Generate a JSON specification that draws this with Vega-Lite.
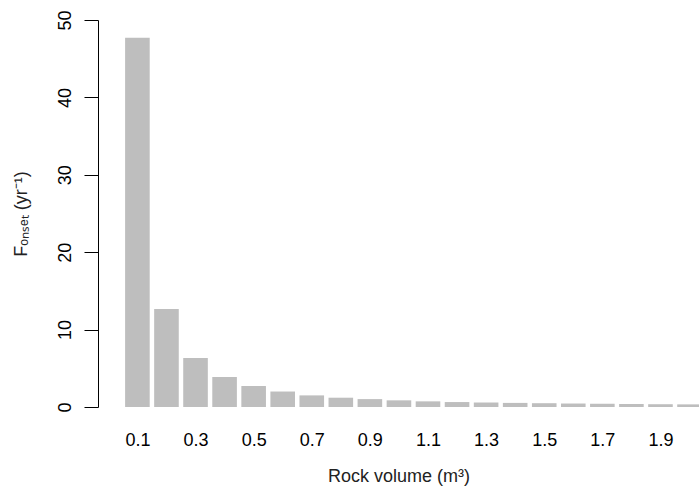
{
  "$schema": "https://vega.github.io/schema/vega-lite/v6.json",
  "autosize": {"type": "none"},
  "padding": {"left": 98, "top": 20, "right": 0, "bottom": 86},
  "width": 601,
  "height": 387,
  "background": "white",
  "config": {
    "view": {"stroke": null},
    "font": "Liberation Sans",
    "axis": {"grid": false, "labelFont": "Liberation Sans", "titleFont": "Liberation Sans", "labelColor": "black", "titleColor": "#222222", "titleFontWeight": "normal", "domainColor": "black", "tickColor": "black"}
  },
  "data": {
    "values": [
      {"vol": 0.1, "f": 47.7},
      {"vol": 0.2, "f": 12.66},
      {"vol": 0.3, "f": 6.33},
      {"vol": 0.4, "f": 3.88},
      {"vol": 0.5, "f": 2.71},
      {"vol": 0.6, "f": 2.0},
      {"vol": 0.7, "f": 1.5},
      {"vol": 0.8, "f": 1.2},
      {"vol": 0.9, "f": 1.02},
      {"vol": 1.0, "f": 0.86},
      {"vol": 1.1, "f": 0.73},
      {"vol": 1.2, "f": 0.64},
      {"vol": 1.3, "f": 0.58},
      {"vol": 1.4, "f": 0.53},
      {"vol": 1.5, "f": 0.49},
      {"vol": 1.6, "f": 0.45},
      {"vol": 1.7, "f": 0.42},
      {"vol": 1.8, "f": 0.39},
      {"vol": 1.9, "f": 0.36},
      {"vol": 2.0, "f": 0.34}
    ]
  },
  "mark": {"type": "bar", "color": "#BEBEBE", "width": 24.6, "clip": true},
  "encoding": {
    "x": {
      "field": "vol",
      "type": "quantitative",
      "scale": {"domain": [-0.0184, 2.0154], "nice": false, "zero": false},
      "axis": {
        "values": [0.1, 0.3, 0.5, 0.7, 0.9, 1.1, 1.3, 1.5, 1.7, 1.9],
        "format": ".1f",
        "domain": false,
        "ticks": false,
        "labelFontSize": 18,
        "labelPadding": 24,
        "title": "Rock volume (m³)",
        "titleFontSize": 18,
        "titlePadding": 18
      }
    },
    "y": {
      "field": "f",
      "type": "quantitative",
      "scale": {"domain": [0, 50], "nice": false},
      "axis": {
        "values": [0, 10, 20, 30, 40, 50],
        "tickSize": 14,
        "tickWidth": 1,
        "domainWidth": 1,
        "labelAngle": -90,
        "labelFontSize": 18,
        "labelPadding": 10,
        "title": "Fₒₙₛₑₜ (yr⁻¹)",
        "titleFontSize": 18,
        "titlePadding": 26
      }
    }
  }
}
